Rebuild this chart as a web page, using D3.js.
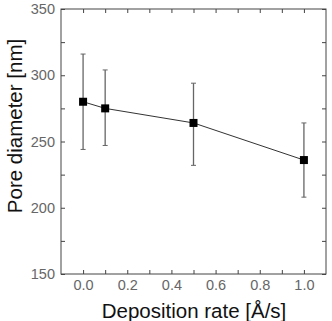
<!DOCTYPE html>
<html>
<head>
<meta charset="utf-8">
<script src="https://d3js.org/d3.v7.min.js"></script>
<style>
body { margin: 0; background: #fff; }
text { font-family: "Liberation Sans", Arial, sans-serif; }
</style>
</head>
<body>
<div id="chart"></div>
<script>
// data
var rates = [0.0, 0.1, 0.5, 1.0];
var diameters = [280, 275, 264, 236];
var errUp = [36, 29, 30, 28];
var errDown = [36, 28, 32, 28];
var xTicks = [0.0, 0.2, 0.4, 0.6, 0.8, 1.0];
var yTicks = [150, 200, 250, 300, 350];

var W = 332, H = 321;
var margin = {top: 9, right: 6, bottom: 47, left: 61};
var width = W - margin.left - margin.right,
    height = H - margin.top - margin.bottom;

var svg = d3.select("#chart").append("svg")
    .attr("width", W).attr("height", H);
var g = svg.append("g")
    .attr("transform", "translate(" + margin.left + "," + margin.top + ")");

var x = d3.scaleLinear().domain([-0.1, 1.1]).range([0, width]);
var y = d3.scaleLinear().domain([150, 350]).range([height, 0]);

var minorX = d3.range(0, 11).map(d => d / 10);
var minorY = d3.range(150, 351, 25);

// ticks, inward, all four sides
function tickStyle(sel) {
  sel.select(".domain").remove();
  sel.selectAll("line").attr("stroke", "#444");
}
g.append("g").attr("transform", "translate(0," + height + ")")
  .call(d3.axisBottom(x).tickValues(minorX).tickSize(-4).tickFormat(""))
  .call(tickStyle);
g.append("g")
  .call(d3.axisTop(x).tickValues(minorX).tickSize(-4).tickFormat(""))
  .call(tickStyle);
g.append("g")
  .call(d3.axisLeft(y).tickValues(minorY).tickSize(-4).tickFormat(""))
  .call(tickStyle);
g.append("g").attr("transform", "translate(" + width + ",0)")
  .call(d3.axisRight(y).tickValues(minorY).tickSize(-4).tickFormat(""))
  .call(tickStyle);

// labels
var xl = g.append("g").attr("transform", "translate(0," + height + ")")
  .call(d3.axisBottom(x).tickValues(xTicks).tickSize(0).tickPadding(6).tickFormat(d3.format(".1f")));
xl.select(".domain").remove();
xl.selectAll("text").attr("font-size", 14.5).attr("fill", "#666")
  .style("font-family", "Liberation Sans, Arial, sans-serif");

var yl = g.append("g")
  .call(d3.axisLeft(y).tickValues(yTicks).tickSize(0).tickPadding(6));
yl.select(".domain").remove();
yl.selectAll("text").attr("font-size", 14.5).attr("fill", "#666")
  .style("font-family", "Liberation Sans, Arial, sans-serif");

g.append("rect").attr("width", width).attr("height", height)
  .attr("fill", "none").attr("stroke", "#444").attr("stroke-width", 1);

var pts = rates.map((r, i) => ({r: r, d: diameters[i], up: errUp[i], dn: errDown[i]}));

// error bars
g.selectAll(".eb").data(pts).enter().append("line")
  .attr("x1", d => x(d.r)).attr("x2", d => x(d.r))
  .attr("y1", d => y(d.d + d.up)).attr("y2", d => y(d.d - d.dn))
  .attr("stroke", "#666").attr("stroke-width", 1.3);
g.selectAll(".capt").data(pts).enter().append("line")
  .attr("x1", d => x(d.r) - 2.5).attr("x2", d => x(d.r) + 2.5)
  .attr("y1", d => y(d.d + d.up)).attr("y2", d => y(d.d + d.up))
  .attr("stroke", "#666");
g.selectAll(".capb").data(pts).enter().append("line")
  .attr("x1", d => x(d.r) - 2.5).attr("x2", d => x(d.r) + 2.5)
  .attr("y1", d => y(d.d - d.dn)).attr("y2", d => y(d.d - d.dn))
  .attr("stroke", "#666");

g.append("path").datum(pts)
  .attr("fill", "none").attr("stroke", "#333").attr("stroke-width", 1)
  .attr("d", d3.line().x(d => x(d.r)).y(d => y(d.d)));

g.selectAll(".pt").data(pts).enter().append("rect")
  .attr("x", d => x(d.r) - 4).attr("y", d => y(d.d) - 4)
  .attr("width", 8).attr("height", 8).attr("fill", "#000");

svg.append("text").attr("x", 194).attr("y", 318)
  .attr("text-anchor", "middle").attr("font-size", 20.5).attr("fill", "#111")
  .text("Deposition rate [Å/s]");
svg.append("text")
  .attr("transform", "translate(22," + 126 + ") rotate(-90)")
  .attr("text-anchor", "middle").attr("font-size", 20.5).attr("fill", "#111")
  .text("Pore diameter [nm]");
</script>
</body>
</html>
